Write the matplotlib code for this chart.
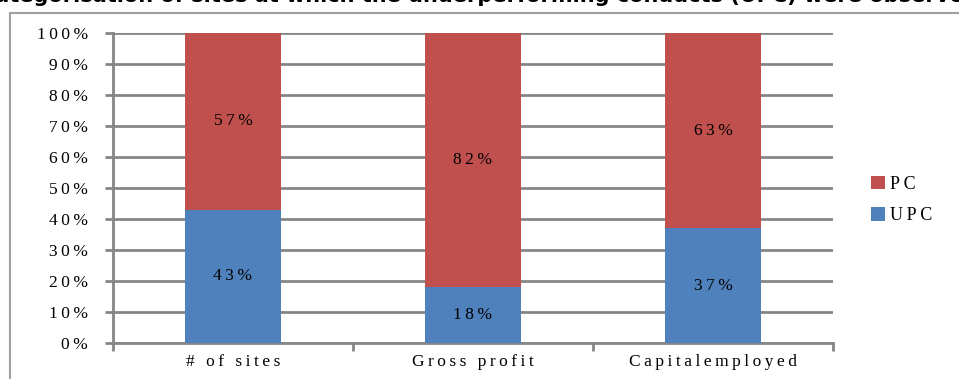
import matplotlib.pyplot as plt
from matplotlib.patches import Rectangle
from matplotlib.ticker import FuncFormatter

categories = ['# of sites', 'Gross profit', 'Capitalemployed']
upc = [43, 18, 37]
pc = [57, 82, 63]
series_names = ['PC', 'UPC']
title = 'Categorisation of sites at which the underperforming conducts (UPC) were observed'

RED = '#C0504D'
BLUE = '#4F81BD'
GRID = '#868686'
FS = 12.5


def wide(s):
    # the reference text is drawn horizontally stretched; thin spaces mimic that
    return '\u2009'.join(s)


plt.rcParams['font.family'] = ['Liberation Serif', 'DejaVu Serif']

fig = plt.figure(figsize=(9.59, 3.79), dpi=100)
ax = fig.add_axes([113 / 959, 1 - 343 / 379, 720 / 959, 310 / 379])

x = range(len(categories))
b1 = ax.bar(x, upc, width=0.4, color=BLUE, zorder=3)
b2 = ax.bar(x, pc, width=0.4, bottom=upc, color=RED, zorder=3)

for i in x:
    ax.text(i, upc[i] / 2, wide(f'{upc[i]}%'), ha='center', va='center', fontsize=FS, zorder=4)
    ax.text(i, upc[i] + pc[i] / 2, wide(f'{pc[i]}%'), ha='center', va='center', fontsize=FS, zorder=4)

ax.set_xlim(-0.5, 2.5)
ax.set_ylim(0, 100)
ax.set_yticks(range(0, 101, 10))
ax.yaxis.set_major_formatter(FuncFormatter(lambda v, p: wide(f'{v:.0f}%')))
ax.grid(axis='y', color=GRID, linewidth=2, zorder=0)

ax.set_xticks([-0.5, 0.5, 1.5, 2.5])
ax.set_xticklabels([])
ax.set_xticks([0, 1, 2], minor=True)
ax.set_xticklabels([wide(c) for c in categories], minor=True, fontsize=FS)
ax.tick_params(axis='x', which='minor', length=0, pad=8)
ax.tick_params(axis='x', which='major', length=6, width=2, color=GRID)
ax.tick_params(axis='y', length=6, width=2, color=GRID, labelsize=FS, pad=12)

for s in ['top', 'right']:
    ax.spines[s].set_visible(False)
for s in ['left', 'bottom']:
    ax.spines[s].set_color(GRID)
    ax.spines[s].set_linewidth(2)

fig.legend([b2, b1], [wide(n) for n in series_names], loc='center left',
           bbox_to_anchor=(855 / 959, 1 - 200 / 379),
           frameon=False, fontsize=FS + 0.5, handlelength=0.75, handleheight=0.75,
           handletextpad=0.3, labelspacing=0.8)

fig.patches.append(Rectangle((10 / 959, -0.1), 1.0, 1.1 - 13 / 379, transform=fig.transFigure,
                             fill=False, edgecolor='#A0A0A0', linewidth=1.5))

fig.text(0.5, 1 - 2 / 379, title, ha='center', va='baseline', fontsize=15, fontweight='bold',
         family=['DejaVu Sans'])

fig.savefig('out.png', dpi=100)
